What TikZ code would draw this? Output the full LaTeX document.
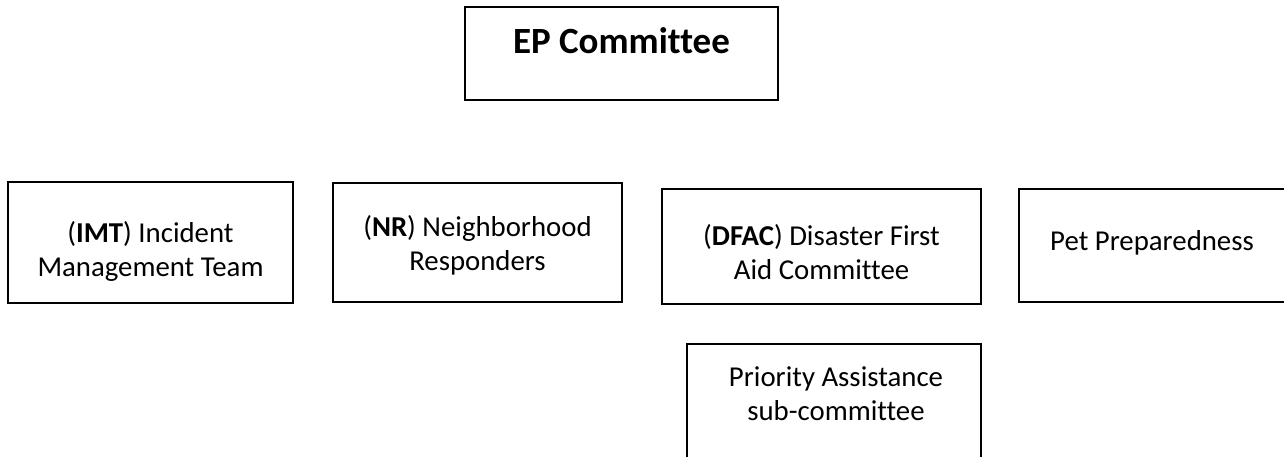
\documentclass[tikz,border=0pt]{standalone}
\usepackage{fontspec}
\setmainfont[Ligatures=CommonOff]{Carlito}
\begin{document}
\begin{tikzpicture}[x=1pt,y=-1pt,
  box/.style={draw=black, line width=2pt, fill=white},
  txt/.style={anchor=base, inner sep=0pt, font=\fontsize{28.8}{34}\selectfont},
  ttl/.style={anchor=base, inner sep=0pt, font=\fontsize{37}{42}\selectfont\bfseries}]
\useasboundingbox (0,0) rectangle (1284,457);
% boxes
\draw[box] (465,7) rectangle (778,100);
\draw[box] (8,182) rectangle (293,303);
\draw[box] (333,183) rectangle (622,302);
\draw[box] (662,189) rectangle (981,304);
\draw[box] (1019,189) rectangle (1290,302);
\draw[box] (687,344) rectangle (981,470);
% texts
\node[ttl] (ep) at (621.5,54) {EP Committee};
\node[txt] (imt1) at (150.5,242) {(\textbf{IMT}) Incident};
\node[txt] (imt2) at (150.5,276) {Management Team};
\node[txt] (nr1) at (477.5,236) {(\textbf{NR}) Neighborhood};
\node[txt] (nr2) at (477.5,270) {Responders};
\node[txt] (df1) at (821.5,245) {(\textbf{DFAC}) Disaster First};
\node[txt] (df2) at (821.5,279) {Aid Committee};
\node[txt] (pet) at (1152,250) {Pet Preparedness};
\node[txt] (pa1) at (836,386) {Priority Assistance};
\node[txt] (pa2) at (836,420) {sub-committee};
\end{tikzpicture}
\end{document}
